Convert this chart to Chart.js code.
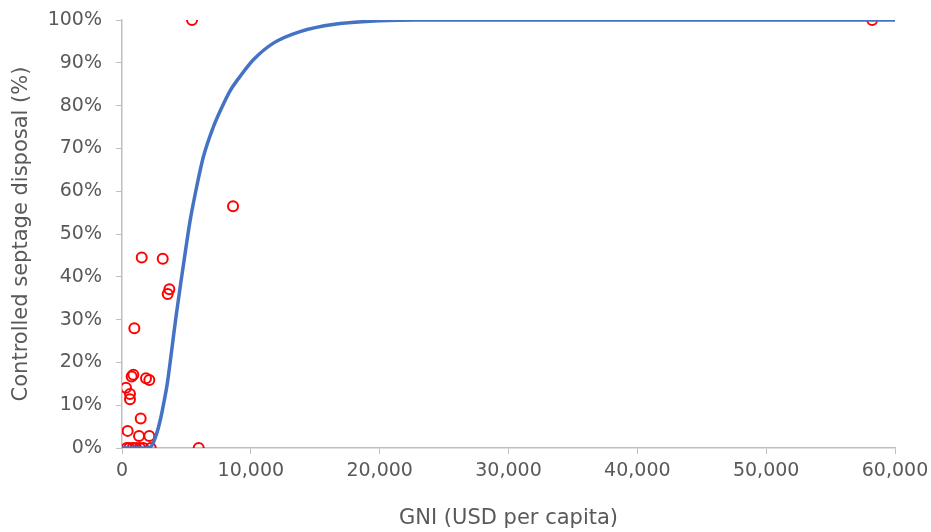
<!DOCTYPE html>
<html>
<head>
<meta charset="utf-8">
<script src="https://cdn.jsdelivr.net/npm/chart.js@4"></script>
<style>
  html, body { margin: 0; padding: 0; background: #ffffff; }
  #wrap { width: 931px; height: 532px; position: relative; }
</style>
</head>
<body>
<div id="wrap"><canvas id="c" width="931" height="532"></canvas></div>
<script>
// Observed countries: GNI (USD per capita) and controlled septage disposal (%)
const gniObserved = [1530, 3160, 3675, 3547, 957, 880, 750, 1863, 2120, 310, 620, 620, 1450, 440, 1320, 2120,
                     365, 567, 830, 1087, 1398, 1654, 2228, 5955, 5435, 8618, 58230];
const septageObserved = [44.5, 44.2, 37.1, 36.0, 28.0, 17.1, 16.7, 16.3, 15.9, 14.1, 12.6, 11.4, 6.9, 4.0, 2.8, 2.8,
                         0, 0, 0, 0, 0, 0, 0, 0, 100, 56.5, 100];

// Fitted curve
const gniCurve = [0, 1000, 2000, 2252, 2694, 3028, 3284, 3517, 3859, 4193, 4557, 4900, 5280, 5800, 6312, 7090,
                  7738, 8400, 9161, 10197, 11750, 13820, 16500, 20000, 23000, 60000];
const septageCurve = [0, 0, 0, 0.3, 3.4, 7.3, 11.2, 15.1, 22.9, 30.7, 38.5, 45.5, 53.0, 61.1, 68.0, 75.0,
                      79.5, 83.5, 86.8, 90.7, 94.6, 97.3, 99.0, 99.8, 100, 100];

// Axis ticks
const xTicks = [0, 10000, 20000, 30000, 40000, 50000, 60000];
const yTicks = [0, 10, 20, 30, 40, 50, 60, 70, 80, 90, 100];

const xTitle = 'GNI (USD per capita)';
const yTitle = 'Controlled septage disposal (%)';

const scatterData = gniObserved.map((x, i) => ({ x: x, y: septageObserved[i] }));
const curveData = gniCurve.map((x, i) => ({ x: x, y: septageCurve[i] }));

const axisColor = '#bfbfbf';
const textColor = '#595959';
const fontFamily = '"DejaVu Sans", "Open Sans", sans-serif';

new Chart(document.getElementById('c'), {
  type: 'scatter',
  data: {
    datasets: [
      {
        label: 'Observed',
        data: scatterData,
        showLine: false,
        pointRadius: 5,
        pointHoverRadius: 5,
        pointBorderWidth: 2,
        pointBorderColor: '#ff0000',
        pointBackgroundColor: 'rgba(0,0,0,0)',
        order: 2
      },
      {
        label: 'Fit',
        data: curveData,
        showLine: true,
        borderColor: '#4472c4',
        borderWidth: 3.5,
        pointRadius: 0,
        pointHoverRadius: 0,
        cubicInterpolationMode: 'monotone',
        fill: false,
        order: 1
      }
    ]
  },
  options: {
    responsive: false,
    animation: false,
    events: [],
    layout: { autoPadding: false, padding: { top: 20, right: 36, left: 0, bottom: 0 } },
    plugins: {
      legend: { display: false },
      tooltip: { enabled: false },
      title: { display: false }
    },
    scales: {
      x: {
        type: 'linear',
        min: 0,
        max: 60000,
        afterBuildTicks: (scale) => { scale.ticks = xTicks.map(v => ({ value: v })); },
        afterFit: (scale) => { scale.height = 84; scale.paddingLeft = 0; scale.paddingRight = 0; },
        ticks: {
          color: textColor,
          font: { family: fontFamily, size: 19 },
          padding: 6,
          maxRotation: 0,
          callback: (v) => Number(v).toLocaleString('en-US')
        },
        grid: {
          display: true,
          drawOnChartArea: false,
          drawTicks: true,
          tickLength: 6,
          color: axisColor,
          lineWidth: 1
        },
        border: { display: true, color: axisColor, width: 1.5 },
        title: {
          display: true,
          text: xTitle,
          color: textColor,
          font: { family: fontFamily, size: 21 },
          padding: { top: 0, bottom: 1 }
        }
      },
      y: {
        type: 'linear',
        min: 0,
        max: 100,
        afterBuildTicks: (scale) => { scale.ticks = yTicks.map(v => ({ value: v })); },
        afterFit: (scale) => { scale.width = 122; scale.paddingTop = 0; scale.paddingBottom = 0; },
        ticks: {
          color: textColor,
          font: { family: fontFamily, size: 19 },
          padding: 14,
          callback: (v) => v + '%'
        },
        grid: {
          display: true,
          drawOnChartArea: false,
          drawTicks: true,
          tickLength: 6,
          color: axisColor,
          lineWidth: 1
        },
        border: { display: true, color: axisColor, width: 1.5 },
        title: {
          display: true,
          text: yTitle,
          color: textColor,
          font: { family: fontFamily, size: 21 },
          padding: { top: 9, bottom: 9 }
        }
      }
    }
  }
});
</script>
</body>
</html>
